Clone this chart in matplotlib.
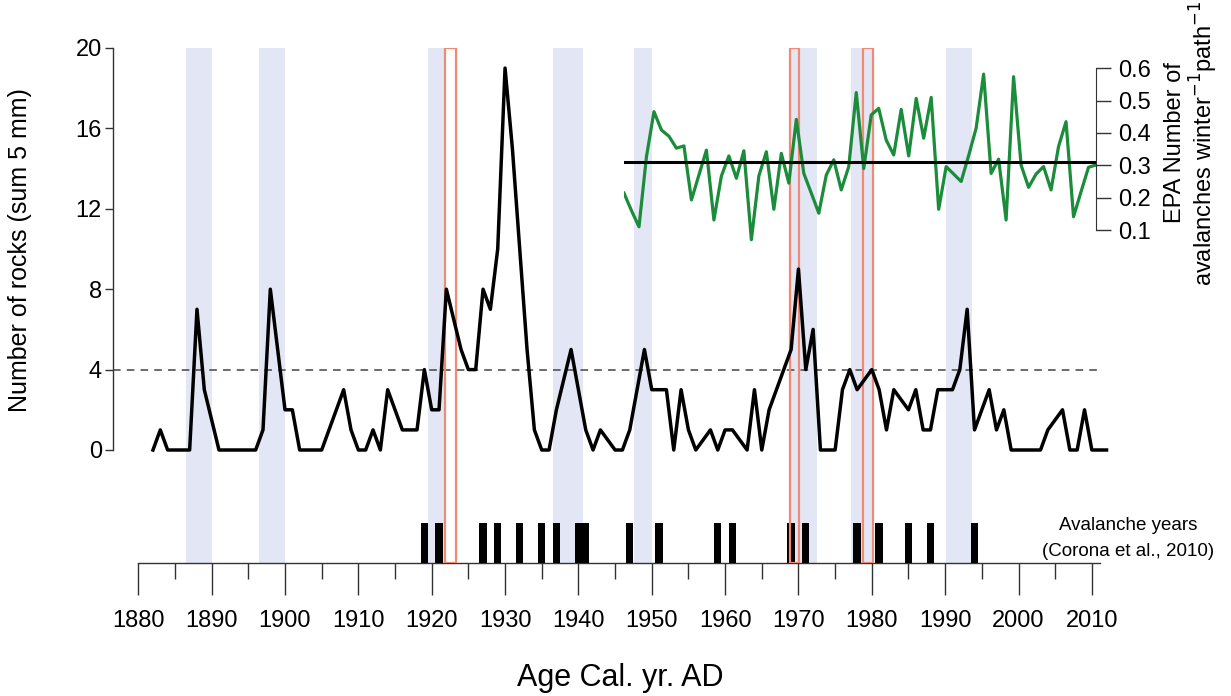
import numpy as np
import matplotlib.pyplot as plt
from matplotlib.patches import Rectangle

plt.rcParams['font.family'] = ['Liberation Sans', 'DejaVu Sans']

# number of rocks per year (sum 5 mm)
rock_years = np.arange(1882, 2013)
rocks = [0, 1, 0, 0, 0, 0, 7, 3, 1.5, 0,            # 1882-1891
         0, 0, 0, 0, 0, 1, 8, 5, 2, 2,              # 1892-1901
         0, 0, 0, 0, 1, 2, 3, 1, 0, 0,              # 1902-1911
         1, 0, 3, 2, 1, 1, 1, 4, 2, 2,              # 1912-1921
         8, 6.5, 5, 4, 4, 8, 7, 10, 19, 15,         # 1922-1931
         10, 5, 1, 0, 0, 2, 3.5, 5, 3, 1,           # 1932-1941
         0, 1, 0.5, 0, 0, 1, 3, 5, 3, 3,            # 1942-1951
         3, 0, 3, 1, 0, 0.5, 1, 0, 1, 1,            # 1952-1961
         0.5, 0, 3, 0, 2, 3, 4, 5, 9, 4,            # 1962-1971
         6, 0, 0, 0, 3, 4, 3, 3.5, 4, 3,            # 1972-1981
         1, 3, 2.5, 2, 3, 1, 1, 3, 3, 3,            # 1982-1991
         4, 7, 1, 2, 3, 1, 2, 0, 0, 0,              # 1992-2001
         0, 0, 1, 1.5, 2, 0, 0, 2, 0, 0,            # 2002-2011
         0]                                         # 2012
rock_threshold = 4

# EPA number of avalanches winter-1 path-1
epa_years = np.arange(1946, 2010)
epa = [0.214, 0.16, 0.11, 0.327, 0.466, 0.409, 0.39, 0.353, 0.36, 0.193,
       0.27, 0.347, 0.131, 0.267, 0.329, 0.26, 0.345, 0.07, 0.267, 0.342,
       0.164, 0.337, 0.245, 0.442, 0.275, 0.214, 0.152, 0.27, 0.317, 0.224,
       0.296, 0.525, 0.29, 0.456, 0.476, 0.378, 0.332, 0.473, 0.329, 0.507,
       0.384, 0.51, 0.164, 0.296, 0.273, 0.25, 0.33, 0.415, 0.582, 0.275,
       0.319, 0.131, 0.574, 0.301, 0.232, 0.273, 0.296, 0.224, 0.358, 0.435,
       0.141, 0.218, 0.294, 0.301]
epa_mean = 0.31

# avalanche years (Corona et al., 2010)
aval_years = [1919, 1921, 1927, 1929, 1932, 1935, 1937, 1940, 1941, 1947,
              1951, 1959, 1961, 1969, 1971, 1978, 1981, 1985, 1988, 1994]

band_starts = [1886.5, 1896.5, 1919.5, 1936.6, 1947.6, 1969.0, 1977.1, 1990.1]
band_ends = [1890.0, 1900.0, 1922.0, 1940.6, 1950.1, 1972.5, 1980.1, 1993.7]
box_starts = [1921.8, 1968.9, 1978.8]
box_ends = [1923.3, 1970.1, 1980.1]

W, H = 1231, 696
fig = plt.figure(figsize=(W / 100, H / 100), dpi=100)


def px_axes(x0, y0, x1, y1):
    return fig.add_axes([x0 / W, 1 - y1 / H, (x1 - x0) / W, (y1 - y0) / H])


# main panel
ax = px_axes(113, 48, 1110, 563)
ppy = 7.335
x_left = 1880 - (138.3 - 113) / ppy
x_right = 1880 + (1110 - 138.3) / ppy
ax.set_xlim(x_left, x_right)
ax.set_ylim(-(563 - 450) / 20.1, 20)
ax.patch.set_alpha(0)

for a, b in zip(band_starts, band_ends):
    ax.axvspan(a, b, color='#e3e7f5', lw=0, zorder=0)

bar_h = 40 / 515
for yr in aval_years:
    ax.add_patch(Rectangle((yr - 0.5, 0), 1.0, bar_h, transform=ax.get_xaxis_transform(),
                           color='black', lw=0, zorder=3))

for a, b in zip(box_starts, box_ends):
    ax.add_patch(Rectangle((a, 0), b - a, 1, transform=ax.get_xaxis_transform(),
                           fill=False, ec='#f08a73', lw=1.6, zorder=4))

ax.hlines(rock_threshold, x_left, 2011.1, colors='#444444', linestyles=(0, (5, 4)), lw=1.1, zorder=2)
ax.plot(rock_years, rocks, color='black', lw=2.5, zorder=5)

for s in ['top', 'right']:
    ax.spines[s].set_visible(False)
ax.spines['left'].set_bounds(0, 20)
ax.spines['bottom'].set_bounds(1880, 2011.1)
for s in ['left', 'bottom']:
    ax.spines[s].set_color('#333333')
    ax.spines[s].set_linewidth(1.0)

ax.set_yticks(np.arange(0, 21, 4))
ax.set_xticks(np.arange(1880, 2011, 10))
ax.set_xticks(np.arange(1885, 2011, 10), minor=True)
ax.tick_params(axis='x', which='major', length=23, width=1, color='#333333', pad=11, labelsize=17)
ax.tick_params(axis='x', which='minor', length=11.5, width=1, color='#333333')
ax.tick_params(axis='y', length=6, width=1, color='#333333', labelsize=17, pad=2)

ax.set_ylabel('Number of rocks (sum 5 mm)', fontsize=18)
ax.yaxis.set_label_coords(-0.081, 0.608)

# EPA panel
ag = px_axes(624, 60, 1096, 250)
ag.set_xlim(epa_years[0], epa_years[-1])
ag.set_ylim(0.1 - (250 - 230) / 323.5, 0.6 + (68.3 - 60) / 323.5)
ag.patch.set_alpha(0)
ag.axhline(epa_mean, color='black', lw=2.2, zorder=3)
ag.plot(epa_years, epa, color='#1a8c3a', lw=2.3, zorder=2)
for s in ['top', 'left', 'bottom']:
    ag.spines[s].set_visible(False)
ag.spines['right'].set_bounds(0.1, 0.6)
ag.spines['right'].set_color('#333333')
ag.set_xticks([])
ag.yaxis.tick_right()
ag.set_yticks([0.1, 0.2, 0.3, 0.4, 0.5, 0.6])
ag.tick_params(axis='y', length=10.8, width=1, color='#333333', labelsize=17, pad=5)

fig.text(1192 / W, 1 - 143 / H, 'EPA Number of\navalanches winter$^{-1}$path$^{-1}$',
         rotation=90, ha='center', va='center', fontsize=17, multialignment='center',
         linespacing=1.1)
fig.text(620 / W, 1 - 678 / H, 'Age Cal. yr. AD', fontsize=22, ha='center', va='center')
fig.text(1128 / W, 1 - 525 / H, 'Avalanche years', fontsize=13.5, ha='center', va='center')
fig.text(1128 / W, 1 - 551 / H, '(Corona et al., 2010)', fontsize=13.5, ha='center', va='center')

fig.savefig('out.png', dpi=100)
